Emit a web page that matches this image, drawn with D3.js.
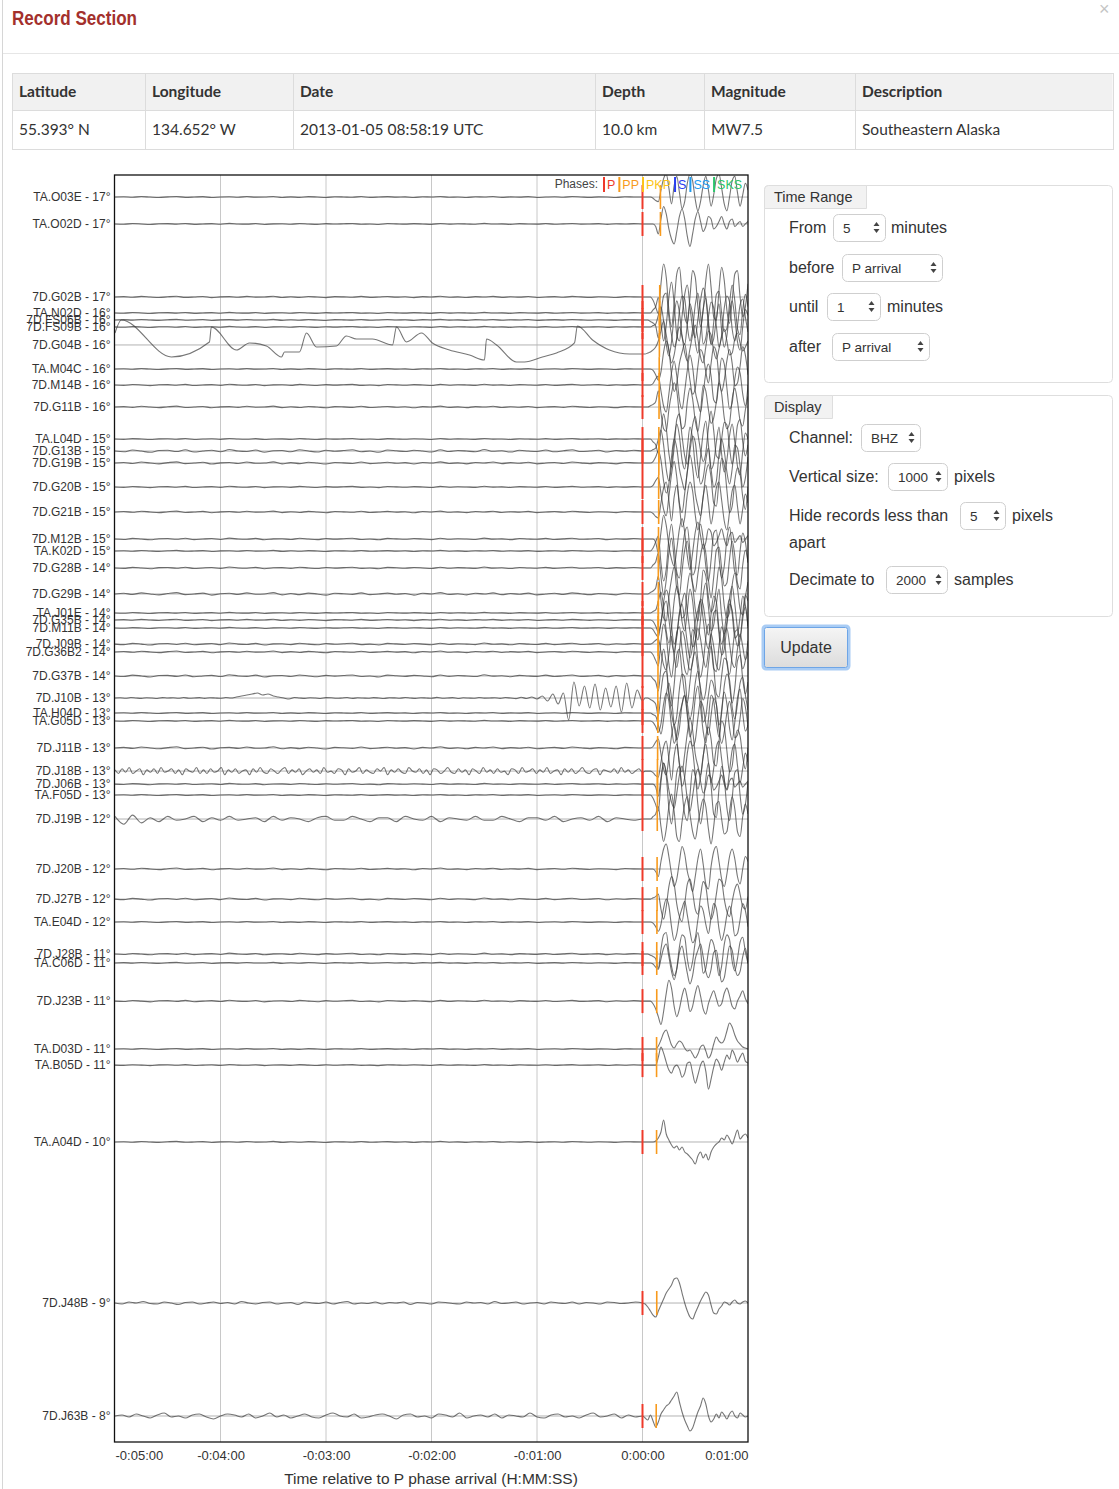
<!DOCTYPE html>
<html><head><meta charset="utf-8">
<script src="https://cdn.jsdelivr.net/npm/d3@7"></script>
<style>
body{margin:0;background:#fff;}
svg text{font-family:"Liberation Sans",Arial,sans-serif;}
.ui{font-family:Lato,"Open Sans",sans-serif;}
</style></head>
<body><svg id="c" width="1119" height="1489"></svg>
<script>
// ---------------- data ----------------
const stations=["TA.O03E","TA.O02D","7D.G02B","TA.N02D","7D.FS06B","7D.FS09B","7D.G04B","TA.M04C","7D.M14B","7D.G11B",
"TA.L04D","7D.G13B","7D.G19B","7D.G20B","7D.G21B","7D.M12B","TA.K02D","7D.G28B","7D.G29B","TA.J01E",
"7D.G35B","7D.M11B","7D.J09B","7D.G36B2","7D.G37B","7D.J10B","TA.H04D","TA.G05D","7D.J11B","7D.J18B",
"7D.J06B","TA.F05D","7D.J19B","7D.J20B","7D.J27B","TA.E04D","7D.J28B","TA.C06D","7D.J23B","TA.D03D",
"TA.B05D","TA.A04D","7D.J48B","7D.J63B"];
const distances=[17.331,17.120,16.547,16.422,16.367,16.312,16.171,15.982,15.857,15.684,
15.433,15.339,15.245,15.057,14.861,14.649,14.555,14.422,14.218,14.069,
14.014,13.951,13.825,13.763,13.575,13.402,13.284,13.222,13.010,12.829,
12.727,12.641,12.453,12.061,11.825,11.645,11.394,11.324,11.025,10.649,
10.523,9.920,8.657,7.771];
// PP arrival, seconds after P
const ppDelay=[10.2,10.2,9.8,9.7,9.7,9.7,9.6,9.5,9.5,9.4,
9.3,9.3,9.3,9.2,9.2,9.1,9.1,9.0,9.0,9.0,
9.0,8.9,8.9,8.9,8.8,8.7,8.7,8.7,8.6,8.5,
8.5,8.5,8.4,8.3,8.3,8.2,8.1,8.1,8.1,8.0,
8.0,8.0,8.1,7.8];
const preWave=["Q1","Q2","Q1","Q2","Q1","Q2","G04","Q1","Q2","Q1",
"Q2","Q2","Q1","Q2","Q1","Q2","Q1","Q2","Q1","Q2",
"Q1","Q2","Q2","Q1","Q2","J10","Q1","Q2","Q1","N18",
"Q2","Q1","J19","Q1","Q2","Q1","Q2","Q1","Q2","Q1",
"Q2","Q1","N48","N63"];
const preGain=[1,1,1.2,1,1,1,1,1,1.3,1.5,
1,2.5,2,1.2,1.5,1.5,1,1.5,2.2,1,
1.2,1,1.8,1.6,2,1,1,1,2,1.2,
1.2,1,1.3,1.6,1.8,1,1.5,1,1.5,1,
1,1,1,1];
const postWave=["P1","P2","P3","P4","P5","P6","G04P","P7","P8","P5",
"P4","P6","P7","P8","P1","P2","P3","P4","P5","P6",
"P7","P8","P1","P3","P4","P5","P6","P7","P8","P1",
"P2","P3","P4","P9","P10","P7","P5","P8","P11","D03",
"B05","A04","J48","J63"];
const postGain=[2.3,2.5,3.3,3.1,3,2.9,1,2.8,3,-2.7,
-2.8,3,-3,3.2,3,3.4,-3,3,-3,3,
3,-3,-2.6,2.8,-3,3,-3,2.8,3,3,
3,3.2,2.5,2.5,2.5,2.3,2.4,-2.1,2.6,1,
1,1,1,1];
// waveform samples (amplitude, pixels of deflection at gain 1, positive = up)
const Q1=[0,0.3,-0.2,0.5,0,-0.4,0.2,0.6,-0.3,0,0.4,-0.5,0.1,0.3,-0.2,0.5,-0.1,0,0.6,-0.4,0.2,-0.3,0.4,0,-0.5,0.3,0.1,-0.2,0.5,-0.3,0,0.4,-0.1,0.2,-0.5,0.3,0,0.6,-0.2,0.1,-0.4,0.3,0,0.5,-0.3,0.2,-0.1,0.4,-0.4,0,0.3,-0.2,0.5,0.1,-0.3,0.2,0,-0.4,0.3,0.1,0];
const Q2=[0,-0.3,0.4,0,-0.5,0.2,0.3,-0.2,0.5,-0.4,0,0.3,-0.3,0.6,0,-0.2,0.4,-0.5,0.1,0.2,-0.3,0.5,0,-0.4,0.3,-0.1,0.2,0.5,-0.3,0,-0.5,0.4,0.1,-0.2,0.3,0,-0.4,0.5,-0.2,0.2,0,-0.3,0.6,-0.1,0.1,-0.4,0.3,0,-0.2,0.4,-0.3,0.1,0.5,-0.2,0,0.3,-0.4,0.2,-0.1,0.3,0];
const N18=[1,-2,2,-1,3,-2,0,2,-3,1,-1,2,-2,3,-1,0,2,-2,1,-3,2,0,-1,3,-2,1,-2,2,-1,0,3,-3,1,-1,2,-2,0,1,-3,2,-1,3,-1,-2,2,0,-2,1,3,-2,1,-1,2,-3,0,2,-1,1,-2,3,-1,0,-2,2,1,-3,2,-1,0,3,-2,1,-1,-2,2,0,3,-3,1,-1,2,-1,-2,3,0,-1,2,-2,1,-3,2,1,-2,0,3,-1,-2,2,-1,1,-3,2,0,-2,3,-1,1,-2,2,-1,0,-3,2,1,-2,3,-1,0,2,-2,1,-1,3,-2,0,1,-3,2,-1,2,-2,0,3,-1,-2,1,2,-3,1,0,-1,2,-2,3,-1,1,-2,0,2,-1];
const N63=[0,1,-1,2,0,-2,1,3,-1,0,-2,1,2,-1,-3,0,2,1,-1,2,-2,0,3,-1,1,-2,0,2,-1,-2,1,3,0,-1,2,-2,-1,1,2,0,-3,1,2,-1,0,-2,2,1,-1,3,-2,0,1,-1,2,-2,1,0,-1,3,-1,-2,1,2,-1,0,-2,1,3,-1,0,2,-2,1,-1,0];
const N48=[0,-1,1,0,1.5,-0.5,-1,1,0,-1.5,0.5,1,-1,0,1,-0.5,0.5,-1,1.5,0,-1,0.5,1,-1,0,0.5,-1.5,1,0,-0.5,1,-1,0.5,1.5,-1,0,-0.5,1,-1,0.5,0,1,-1.5,0.5,0,-1,1,0.5,-0.5,-1,1,0,0.5,-1,1.5,-0.5,0,1,-1,0,0.5,-1,1,0,-0.5,1,-1,0.5,0,-1,1,0.5,-0.5,0,1,0];
const J19=[2,-4,3,-3,1,-2,2,-1,0,2,-2,1,-1,2,-1,0,1,-2,2,-1,1,0,-2,1,2,-1,-1,2,0,-2,1,1,-2,2,0,-1,2,-2,1,0,-1,2,-1,-1,2,0,-2,1,1,-1,2,-2,0,1,-1,2,-2,1,0,-1,0];
const J10=[0,0.3,-0.3,0.5,0,-0.4,0.3,0,-0.5,0.4,0,0.3,-0.3,0.5,-0.2,0,0.4,-0.4,0.3,0,-0.3,0.5,0,1,2,3,4,5,3,4,2,1,0,-1,0.5,0,-0.4,0.3,0,-0.5,0.4,0.2,-0.3,0,0.5,-0.4,0.2,0,-0.3,0.4,0,-0.5,0.3,0.1,-0.2,0.5,0,-0.4,0.3,0,-0.3,0.6,-0.2,0,0.4,-0.5,0.2,0,-0.3,0.5,-0.1,0,0.3,-0.4,0.5,0,-0.6,0.8,-0.5,1,-1,2,-3,4,-6,5,-22,16,-8,12,-10,14,-12,10,-9,12,-14,15,-10,8,-3];
const G04=[[-300,12],[-296.4,25],[-267.9,-12],[-246.3,3],[-245.2,18],[-230.9,-5],[-223.5,2],[-213.9,-1],[-205.3,-12],[-203.6,-7],[-195.1,-7],[-191.1,12],[-185.4,-2],[-174.1,-1],[-168.4,9],[-162.7,6],[-153.6,6],[-142.2,0],[-139.9,18],[-134.2,3],[-125.7,12],[-119.5,2],[-109.8,-5],[-98.4,-10],[-89.9,-15],[-88.7,6],[-83,0],[-71.7,-17],[-67.1,-17],[-56.9,-12],[-48.9,-8],[-38.7,2],[-37,19],[-28.4,5],[-18.8,-5],[-7.4,-9],[0,-9]];
const P1=[0,0,0,0,-0.5,-1.5,-2,3,8,10,4,-3,5,9,2,-5,-2,6,10,7,-1,-6,-2,5,9,3,-4,1,8,10,4,-3,-6,0,7,9,2,-4,1,6,3];
const P2=[0,0,0,0,0,-1,-4,2,7,4,-2,-6,-8,-3,3,6,2,-5,-9,-4,2,5,1,-3,-1,3,2,-2,-1,1,3,0,-2,1,2,-1,0,1,-1,0,1];
const P3=[0,0,0,0,-1,-3,-5,4,10,6,-4,-9,-2,7,9,1,-6,-8,0,8,6,-3,-9,-4,5,10,3,-6,-7,2,9,5,-4,-8,-1,7,8,0,-6,-3,4];
const P4=[0,0,0,0,1,2,5,-3,-9,-4,5,10,3,-7,-9,-1,6,9,2,-5,-8,-2,4,8,5,-4,-10,-3,6,7,0,-6,-5,3,9,4,-5,-7,1,6,2];
const P5=[0,0,0,-0.5,-1,-2,-6,2,8,9,1,-5,-9,-6,3,8,7,-2,-7,-3,5,9,2,-8,-6,1,6,4,-2,-9,-5,4,8,6,-3,-7,-2,5,7,1,-4];
const P6=[0,0,0,0,0.5,1,4,7,2,-6,-10,-5,4,9,5,-3,-6,1,8,4,-5,-9,-2,6,10,2,-6,-4,3,8,-1,-7,-3,5,9,3,-5,-8,0,6,4];
const P7=[0,0,0,0,-0.5,-2,-4,-1,6,10,7,-2,-8,-5,2,6,9,3,-4,-9,-7,1,7,5,-1,-5,2,8,6,-3,-8,-4,3,7,2,-6,-5,1,8,5,-2];
const P8=[0,0,0,0,0.5,2,3,-2,-7,-9,-3,4,8,3,-5,-8,-2,5,10,6,-2,-6,-9,-3,4,7,3,-5,-6,2,9,7,-1,-8,-6,2,6,4,-3,-7,0];
const P9=[0,0,0,0,0,-1,-3,3,8,10,5,-2,-7,-4,3,9,6,-1,-5,-9,-3,4,8,2,-6,-8,1,7,9,3,-4,-7,-2,5,8,4,-3,-6,0,5,3];
const P10=[0,0,0,0,0.5,1,2,-4,-8,-3,5,9,6,-2,-7,-9,-2,6,8,3,-4,-6,1,7,5,-3,-8,-5,2,8,7,0,-5,-7,-1,4,6,2,-3,-4,1];
const P11=[0,0,0,0,-1,-3,-6,-9,-4,3,8,5,-2,-6,-3,2,5,1,-4,-2,3,6,2,-3,-5,-1,2,4,1,-2,-1,3,5,2,-2,-3,0,2,4,1,-1];
const G04P=[-9,-9,-8,-7,-5,-2,4,14,24,10,-6,-18,-10,6,18,8,-8,-16,-4,10,20,6,-12,-18,-2,14,10,-6,-14,-4,8,16,4,-10,-8,6,12,2,-6,-2,4];
const D03=[0,0,0,0,0,0,3,9,16,19,12,4,1,5,8,6,1,-2,-1,-5,-9,-5,2,4,-2,-9,-5,5,12,8,6,9,18,26,22,14,8,5,2,1,0];
const B05=[0,0,0,0,0,0,8,18,12,3,-5,-8,-2,0,-4,-12,-8,2,3,-8,-18,-10,0,4,-6,-24,-14,-2,6,2,-5,3,10,6,15,10,3,8,12,4,2];
const A04=[0,0,0,0,0,1,4,10,22,8,2,-3,-6,-4,-8,-5,-10,-12,-15,-18,-22,-14,-10,-16,-12,-18,-10,-5,-2,0,4,2,7,3,-2,5,12,3,6,8,4];
const J48=[0,-1,-4,-8,-12,-14,-8,-2,4,10,14,18,24,25,20,10,0,-8,-14,-16,-10,-4,2,7,11,8,-2,-10,-11,-6,-3,1,0,-2,1,3,0,-1,1,2,0];
const J63=[0,-2,-4,1,-5,-11,-6,2,6,10,12,16,20,24,14,4,-4,-10,-15,-12,-4,4,10,18,12,0,-6,-3,2,-2,4,1,-3,2,5,0,-2,3,1,-1,0];
const waves={Q1,Q2,N18,N63,N48,J19,J10,G04,P1,P2,P3,P4,P5,P6,P7,P8,P9,P10,P11,G04P,D03,B05,A04,J48,J63};

const timeTicks=[-300,-240,-180,-120,-60,0,60];
const timeTickLabels=["-0:05:00","-0:04:00","-0:03:00","-0:02:00","-0:01:00","0:00:00","0:01:00"];
const gridTimes=[-240,-180,-120,-60,0];
const phases=["P","PP","PKP","S","SS","SKS"];
const phaseColors=["#ee3a2a","#f89a1c","#fcc419","#2a3ef0","#1d9bf0","#2bc46a"];
const tableHeaders=["Latitude","Longitude","Date","Depth","Magnitude","Description"];
const tableValues=["55.393° N","134.652° W","2013-01-05 08:58:19 UTC","10.0 km","MW7.5","Southeastern Alaska"];

// ---------------- page chrome ----------------
const svg=d3.select("#c");
svg.append("rect").attr("width",1119).attr("height",1489).attr("fill","#fff");
svg.append("line").attr("x1",2.5).attr("x2",2.5).attr("y1",0).attr("y2",1489).attr("stroke","#d6d6d6");
svg.append("text").attr("x",12).attr("y",25).attr("fill","#a3302c").attr("font-size",20).attr("font-weight","bold")
  .attr("textLength",125).attr("lengthAdjust","spacingAndGlyphs")
  .style("font-family","'Liberation Sans Narrow','Liberation Sans',Arial,sans-serif").text("Record Section");
svg.append("text").attr("x",1099).attr("y",15).attr("fill","#c4c4c4").attr("font-size",18).text("×");
svg.append("line").attr("x1",3).attr("x2",1119).attr("y1",53.5).attr("y2",53.5).attr("stroke","#e6e6e6");

// table
const colX=[12,145,293,595,704,855,1113];
const tb=svg.append("g").attr("class","ui");
tb.append("rect").attr("x",12.5).attr("y",73.5).attr("width",1100).attr("height",37).attr("fill","#f1f1f1");
[73.5,110.5,149.5].forEach(v=>tb.append("line").attr("x1",12).attr("x2",1113).attr("y1",v).attr("y2",v).attr("stroke","#dcdcdc"));
colX.forEach(v=>tb.append("line").attr("x1",v+0.5).attr("x2",v+0.5).attr("y1",73).attr("y2",150).attr("stroke","#dcdcdc"));
tableHeaders.forEach((h,i)=>tb.append("text").attr("x",colX[i]+7).attr("y",97).attr("font-size",15.5).attr("font-weight","bold").attr("fill","#333").style("font-family","Lato,sans-serif").text(h));
tableValues.forEach((h,i)=>tb.append("text").attr("x",colX[i]+7).attr("y",135).attr("font-size",15.5).attr("fill","#333").style("font-family","Lato,sans-serif").text(h));

// ---------------- chart ----------------
const plot={left:115,right:748,top:175,bottom:1442};
const x=d3.scaleLinear().domain([-300,60]).range([plot.left,plot.right]);
const y=d3.scaleLinear().domain([17.504,7.567]).range([plot.top,plot.bottom]);
const amp=d3.scaleLinear().domain([-10,10]).range([10,-10]);

svg.append("clipPath").attr("id","clip").append("rect")
  .attr("x",plot.left).attr("y",plot.top).attr("width",plot.right-plot.left).attr("height",plot.bottom-plot.top);
const g=svg.append("g");
const gc=g.append("g").attr("clip-path","url(#clip)");

gc.selectAll(".vg").data(gridTimes).join("line").attr("x1",d=>x(d)).attr("x2",d=>x(d))
  .attr("y1",plot.top).attr("y2",plot.bottom).attr("stroke","#c8c8c8").attr("stroke-width",1);
gc.selectAll(".hg").data(distances).join("line").attr("x1",plot.left).attr("x2",plot.right)
  .attr("y1",d=>y(d)).attr("y2",d=>y(d)).attr("stroke","#b3b3b3").attr("stroke-width",1);

// phases legend
const lg=g.append("g");
lg.append("text").attr("x",598).attr("y",188).attr("text-anchor","end").attr("font-size",12).attr("fill","#444").text("Phases:");
let lx=604;
phases.forEach((p,i)=>{
  lg.append("line").attr("x1",lx).attr("x2",lx).attr("y1",177).attr("y2",192).attr("stroke",phaseColors[i]).attr("stroke-width",2);
  const t=lg.append("text").attr("x",lx+3).attr("y",189).attr("font-size",12.5).attr("fill",phaseColors[i]).text(p);
  lx+=3+t.node().getComputedTextLength()+4;
});

function tracePoints(i){
  const pts=[];
  const pre=waves[preWave[i]], g1=preGain[i];
  if(Array.isArray(pre[0])) pre.forEach(p=>pts.push([p[0],p[1]*g1]));
  else pre.forEach((v,k)=>pts.push([-300+300*k/(pre.length-1),v*g1]));
  const post=waves[postWave[i]], g2=postGain[i];
  post.forEach((v,k)=>{ if(k>0) pts.push([60*k/(post.length-1),v*g2]); });
  return pts;
}
const line=d3.line().curve(d3.curveMonotoneX);
gc.selectAll(".tr").data(stations).join("path")
  .attr("d",(s,i)=>line(tracePoints(i).map(p=>[x(p[0]),y(distances[i])+amp(p[1])])))
  .attr("fill","none").attr("stroke","#3c3c3c").attr("stroke-opacity",0.7).attr("stroke-width",1.1)
  .attr("stroke-linejoin","round");

// phase markers
gc.selectAll(".pm").data(distances).join("line").attr("x1",x(0)).attr("x2",x(0))
  .attr("y1",d=>y(d)-12).attr("y2",d=>y(d)+12).attr("stroke",phaseColors[0]).attr("stroke-width",2);
gc.selectAll(".ppm").data(distances).join("line").attr("x1",(d,i)=>x(ppDelay[i])).attr("x2",(d,i)=>x(ppDelay[i]))
  .attr("y1",d=>y(d)-12).attr("y2",d=>y(d)+12).attr("stroke",phaseColors[1]).attr("stroke-width",1.6);

g.append("rect").attr("x",plot.left-0.5).attr("y",plot.top).attr("width",plot.right-plot.left+0.5).attr("height",plot.bottom-plot.top)
  .attr("fill","none").attr("stroke","#111").attr("stroke-width",1.3);

// axes
const yAxis=d3.axisLeft(y).tickValues(distances).tickSize(0).tickPadding(4)
  .tickFormat(d=>stations[distances.indexOf(d)]+" - "+Math.round(d)+"°");
const ya=g.append("g").attr("transform",`translate(${plot.left-0.5},0)`).call(yAxis);
ya.select(".domain").remove();
ya.selectAll("text").attr("font-size",12).attr("fill","#333").style("font-family","'Liberation Sans',Arial,sans-serif");

const xAxis=d3.axisBottom(x).tickValues(timeTicks).tickSize(0).tickPadding(9)
  .tickFormat((d,i)=>timeTickLabels[i]);
const xa=g.append("g").attr("transform",`translate(0,${plot.bottom})`).call(xAxis);
xa.select(".domain").remove();
xa.selectAll("text").attr("font-size",13).attr("fill","#333").style("font-family","'Liberation Sans',Arial,sans-serif")
  .attr("text-anchor",(d,i)=>i===0?"start":(i===timeTicks.length-1?"end":"middle"));
g.append("text").attr("x",431).attr("y",1484).attr("text-anchor","middle").attr("font-size",15.5).attr("fill","#333")
  .text("Time relative to P phase arrival (H:MM:SS)");

// ---------------- form panel ----------------
const ui=svg.append("g").attr("class","ui").style("font-family","Lato,sans-serif");
function fieldset(x0,y0,x1,y1,tabW,label){
  ui.append("rect").attr("x",x0+0.5).attr("y",y0+0.5).attr("width",x1-x0).attr("height",y1-y0).attr("rx",4)
    .attr("fill","#fff").attr("stroke","#dedede");
  ui.append("path").attr("d",`M${x0+0.5},${y0+23.5}V${y0+4.5}a4,4 0 0 1 4,-4H${x0+tabW+0.5}V${y0+23.5}Z`)
    .attr("fill","#f2f2f2").attr("stroke","#dedede");
  ui.append("text").attr("x",x0+10).attr("y",y0+17).attr("font-size",14.5).attr("fill","#333").text(label);
}
function sel(x0,y0,x1,y1,txt){
  ui.append("rect").attr("x",x0+0.5).attr("y",y0+0.5).attr("width",x1-x0).attr("height",y1-y0).attr("rx",5)
    .attr("fill","#fff").attr("stroke","#cfcfcf");
  ui.append("text").attr("x",x0+10).attr("y",(y0+y1)/2+5).attr("font-size",13.5).attr("fill","#333")
    .style("font-family","'Liberation Sans',Arial,sans-serif").text(txt);
  const cx=x1-8.5, cy=(y0+y1)/2;
  ui.append("path").attr("d",`M${cx-3},${cy-1.5}L${cx},${cy-5.5}L${cx+3},${cy-1.5}Z M${cx-3},${cy+1.5}L${cx},${cy+5.5}L${cx+3},${cy+1.5}Z`).attr("fill","#444");
}
function lbl(x0,yc,txt){ ui.append("text").attr("x",x0).attr("y",yc+6).attr("font-size",16).attr("fill","#333").text(txt); }
fieldset(764,185,1112,382,102,"Time Range");
lbl(789,227,"From"); sel(833,214,885,241,"5"); lbl(891,227,"minutes");
lbl(789,267,"before"); sel(842,254,942,281,"P arrival");
lbl(789,306,"until"); sel(827,293,880,320,"1"); lbl(887,306,"minutes");
lbl(789,346,"after"); sel(832,333,929,360,"P arrival");
fieldset(764,395,1112,616,68,"Display");
lbl(789,437,"Channel:"); sel(861,424,920,451,"BHZ");
lbl(789,476,"Vertical size:"); sel(888,463,947,490,"1000"); lbl(954,476,"pixels");
lbl(789,515,"Hide records less than"); sel(960,502,1005,529,"5"); lbl(1012,515,"pixels");
lbl(789,542,"apart");
lbl(789,579,"Decimate to"); sel(886,566,947,593,"2000"); lbl(954,579,"samples");
// update button
const defs=svg.append("defs");
const gr=defs.append("linearGradient").attr("id","btn").attr("x1",0).attr("x2",0).attr("y1",0).attr("y2",1);
gr.append("stop").attr("offset","0%").attr("stop-color","#f5f5f5");
gr.append("stop").attr("offset","100%").attr("stop-color","#dcdcdc");
ui.append("rect").attr("x",763).attr("y",626).attr("width",86).attr("height",43).attr("rx",3).attr("fill","none").attr("stroke","#a9ccf4").attr("stroke-width",3);
ui.append("rect").attr("x",764.5).attr("y",627.5).attr("width",83).attr("height",40).attr("rx",2).attr("fill","url(#btn)").attr("stroke","#6ea5e6");
ui.append("text").attr("x",806).attr("y",653).attr("text-anchor","middle").attr("font-size",16).attr("fill","#333").text("Update");
</script></body></html>
